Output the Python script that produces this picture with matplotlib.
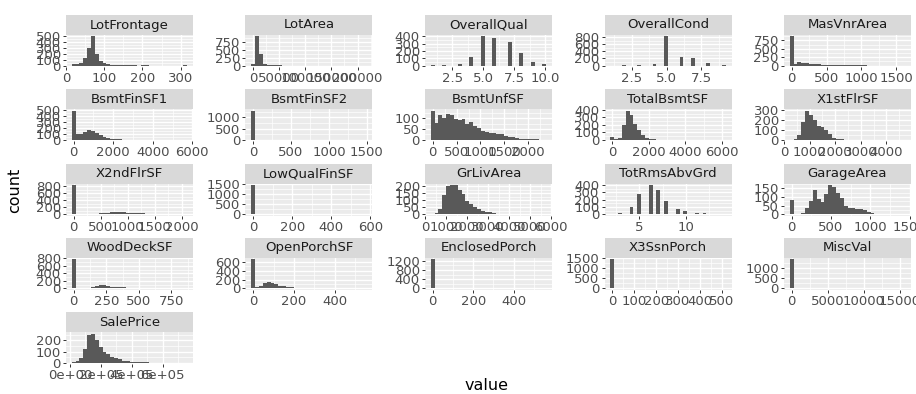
import numpy as np
import matplotlib
matplotlib.use("Agg")
import matplotlib.pyplot as plt
from matplotlib.ticker import MultipleLocator, FuncFormatter

plt.rcParams['font.family'] = ['DejaVu Sans']

# facet order (facet_wrap, 5 columns)
variables = ['LotFrontage', 'LotArea', 'OverallQual', 'OverallCond', 'MasVnrArea',
             'BsmtFinSF1', 'BsmtFinSF2', 'BsmtUnfSF', 'TotalBsmtSF', 'X1stFlrSF',
             'X2ndFlrSF', 'LowQualFinSF', 'GrLivArea', 'TotRmsAbvGrd', 'GarageArea',
             'WoodDeckSF', 'OpenPorchSF', 'EnclosedPorch', 'X3SsnPorch', 'MiscVal',
             'SalePrice']

# data range of each variable
x_min = [21, 1300, 1, 1, 0, 0, 0, 0, 0, 334, 0, 0, 334, 2, 0, 0, 0, 0, 0, 0, 34900]
x_max = [313, 215245, 10, 9, 1600, 5644, 1474, 2336, 6110, 4692, 2065, 572, 5642, 14,
         1418, 857, 547, 552, 508, 15500, 755000]

# integer-valued variables: level -> count
overallqual_levels = [1, 2, 3, 4, 5, 6, 7, 8, 9, 10]
overallqual_counts = [2, 3, 20, 116, 397, 374, 319, 168, 43, 18]
overallcond_levels = [1, 2, 3, 4, 5, 6, 7, 8, 9]
overallcond_counts = [1, 5, 25, 57, 821, 252, 205, 72, 22]
totrms_levels = [2, 3, 4, 5, 6, 7, 8, 9, 10, 11, 12, 14]
totrms_counts = [1, 17, 97, 275, 402, 329, 187, 75, 47, 18, 11, 1]

# continuous variables: counts in the 30 histogram bins
lotfrontage = [18, 25, 45, 130, 290, 485, 200, 80, 35, 18, 8, 5, 3, 2, 2,
               1, 1, 0, 1, 1, 0, 0, 0, 0, 0, 0, 0, 0, 0, 2]
lotarea = [60, 940, 360, 45, 12, 5, 4, 2, 1, 1, 0, 0, 0, 0, 0,
           0, 0, 0, 0, 0, 1, 1, 0, 0, 0, 0, 0, 0, 0, 1]
masvnrarea = [870, 60, 95, 90, 75, 60, 45, 35, 30, 20, 15, 12, 10, 8, 6,
              4, 3, 3, 2, 2, 1, 1, 1, 1, 0, 0, 0, 0, 0, 1]
bsmtfinsf1 = [485, 90, 95, 130, 160, 150, 120, 85, 55, 35, 20, 10, 6, 3, 2,
              1, 0, 0, 0, 0, 0, 0, 0, 0, 0, 0, 0, 0, 0, 1]
bsmtfinsf2 = [1295, 5, 6, 8, 9, 10, 9, 8, 8, 7, 7, 6, 6, 5, 5,
              4, 4, 4, 3, 3, 3, 3, 2, 2, 2, 1, 1, 1, 1, 1]
bsmtunfsf = [135, 80, 115, 100, 120, 115, 95, 90, 95, 75, 85, 65, 55, 40, 35,
             30, 30, 25, 25, 18, 15, 12, 8, 5, 4, 3, 2, 2, 1, 1]
totalbsmtsf = [37, 5, 30, 200, 390, 330, 210, 130, 70, 30, 15, 5, 3, 2, 1,
               1, 0, 0, 0, 0, 0, 0, 0, 0, 0, 0, 0, 0, 0, 1]
x1stflrsf = [2, 12, 50, 180, 290, 250, 195, 140, 130, 100, 55, 22, 12, 6, 3,
             2, 1, 1, 0, 0, 0, 0, 0, 0, 0, 0, 0, 0, 0, 1]
x2ndflrsf = [829, 0, 1, 2, 5, 8, 15, 25, 40, 45, 55, 60, 55, 50, 45,
             40, 35, 25, 20, 15, 10, 8, 5, 4, 3, 2, 2, 1, 0, 1]
lowqualfinsf = [1434, 0, 1, 1, 1, 2, 2, 1, 1, 1, 2, 1, 2, 1, 1,
                1, 1, 0, 1, 1, 0, 1, 0, 0, 0, 0, 0, 0, 1, 1]
grlivarea = [2, 8, 35, 140, 200, 210, 210, 175, 145, 95, 70, 50, 40, 25, 18,
             12, 6, 4, 3, 2, 1, 1, 1, 0, 0, 1, 0, 0, 0, 1]
garagearea = [81, 0, 2, 8, 35, 75, 140, 90, 70, 115, 170, 160, 125, 95, 50,
              35, 35, 32, 30, 22, 12, 5, 3, 2, 1, 1, 1, 1, 1, 1]
wooddecksf = [770, 5, 10, 15, 25, 45, 70, 95, 90, 70, 50, 40, 35, 30, 25,
              20, 15, 10, 8, 6, 5, 4, 3, 2, 2, 1, 1, 1, 0, 1]
openporchsf = [660, 25, 60, 130, 140, 120, 90, 65, 45, 30, 25, 18, 12, 10, 7,
               5, 4, 3, 3, 2, 2, 1, 1, 1, 0, 0, 0, 1, 0, 1]
enclosedporch = [1252, 2, 2, 3, 5, 8, 12, 15, 18, 20, 20, 18, 16, 14, 12,
                 10, 8, 6, 5, 4, 3, 2, 2, 1, 1, 1, 0, 0, 0, 1]
x3ssnporch = [1436, 0, 0, 1, 1, 2, 2, 1, 3, 5, 3, 2, 1, 1, 1,
              0, 0, 0, 1, 0, 0, 0, 0, 0, 0, 0, 0, 0, 0, 1]
miscval = [1415, 30, 8, 2, 2, 0, 0, 0, 0, 0, 0, 0, 0, 0, 0,
           1, 0, 0, 0, 0, 0, 0, 0, 0, 0, 0, 0, 0, 0, 1]
saleprice = [3, 12, 45, 125, 250, 260, 200, 145, 100, 75, 50, 40, 30, 20, 15,
             10, 8, 5, 5, 3, 2, 2, 1, 1, 1, 0, 1, 0, 0, 1]

panel_data = [lotfrontage, lotarea, (overallqual_levels, overallqual_counts),
              (overallcond_levels, overallcond_counts), masvnrarea,
              bsmtfinsf1, bsmtfinsf2, bsmtunfsf, totalbsmtsf, x1stflrsf,
              x2ndflrsf, lowqualfinsf, grlivarea, (totrms_levels, totrms_counts),
              garagearea, wooddecksf, openporchsf, enclosedporch, x3ssnporch,
              miscval, saleprice]

# break spacing per panel
x_step = [100, 50000, 2.5, 2.5, 500, 2000, 500, 500, 2000, 1000, 500, 200, 1000, 5,
          500, 250, 200, 200, 100, 5000, 200000]
y_step = [100, 250, 100, 200, 250, 100, 500, 50, 100, 100, 200, 500, 50, 100, 50,
          200, 200, 400, 500, 500, 100]

BG = '#EBEBEB'
STRIP = '#D9D9D9'
BAR = '#595959'


def bin_edges(lo, hi, bins=30):
    # same layout as ggplot2's stat_bin(bins = 30)
    w = (hi - lo) / (bins - 1)
    origin = w / 2 + np.floor((lo - w / 2) / w) * w
    return origin + w * np.arange(bins + 1)


def fmt_for(name):
    if name in ('OverallQual', 'OverallCond'):
        return FuncFormatter(lambda v, p: f'{v:.1f}')
    if name == 'SalePrice':
        return FuncFormatter(lambda v, p: f'{v:.0e}')
    return FuncFormatter(lambda v, p: f'{v:g}')


fig = plt.figure(figsize=(9.16, 3.94), dpi=100)
W, H = 916.0, 394.0
col_left = [66, 245.5, 425, 604.5, 784]
row_top = [15, 89.3, 163.6, 237.9, 312.2]
pw, strip_h, ph = 127, 20, 32

for i, name in enumerate(variables):
    r, c = divmod(i, 5)
    x0 = col_left[c]
    top = row_top[r]

    # strip
    sax = fig.add_axes([x0 / W, 1 - (top + strip_h) / H, pw / W, strip_h / H])
    sax.set_facecolor(STRIP)
    sax.set_xticks([])
    sax.set_yticks([])
    for s in sax.spines.values():
        s.set_visible(False)
    sax.text(0.5, 0.5, name, ha='center', va='center', fontsize=9.5,
             color='#1A1A1A', transform=sax.transAxes)

    # panel
    ax = fig.add_axes([x0 / W, 1 - (top + strip_h + ph) / H, pw / W, ph / H])
    ax.set_facecolor(BG)
    for s in ax.spines.values():
        s.set_visible(False)

    edges = bin_edges(x_min[i], x_max[i])
    d = panel_data[i]
    if isinstance(d, tuple):
        n, _, _ = ax.hist(d[0], bins=edges, weights=d[1], color=BAR, zorder=3)
    else:
        mids = (edges[:-1] + edges[1:]) / 2
        n, _, _ = ax.hist(mids, bins=edges, weights=d, color=BAR, zorder=3)

    span = edges[-1] - edges[0]
    ax.set_xlim(edges[0] - 0.05 * span, edges[-1] + 0.05 * span)
    ymax = max(n)
    ax.set_ylim(-0.05 * ymax, 1.05 * ymax)

    ax.xaxis.set_major_locator(MultipleLocator(x_step[i]))
    ax.xaxis.set_minor_locator(MultipleLocator(x_step[i] / 2))
    ax.yaxis.set_major_locator(MultipleLocator(y_step[i]))
    ax.yaxis.set_minor_locator(MultipleLocator(y_step[i] / 2))
    ax.xaxis.set_major_formatter(fmt_for(name))
    ax.yaxis.set_major_formatter(FuncFormatter(lambda v, p: f'{v:g}'))

    ax.grid(True, which='major', color='white', lw=1.0, zorder=0)
    ax.grid(True, which='minor', color='white', lw=0.5, zorder=0)
    ax.set_axisbelow(True)
    ax.tick_params(which='major', length=2.5, width=0.7, color='#333333',
                   labelsize=9.5, labelcolor='#4D4D4D', pad=1.2)
    ax.tick_params(which='minor', length=0)

fig.text(15 / W, 1 - 190 / H, 'count', rotation=90, ha='center', va='center',
         fontsize=11.5, color='black')
fig.text(487 / W, 1 - 386 / H, 'value', ha='center', va='center',
         fontsize=11.5, color='black')

fig.savefig('out.png', dpi=100, facecolor='white')
